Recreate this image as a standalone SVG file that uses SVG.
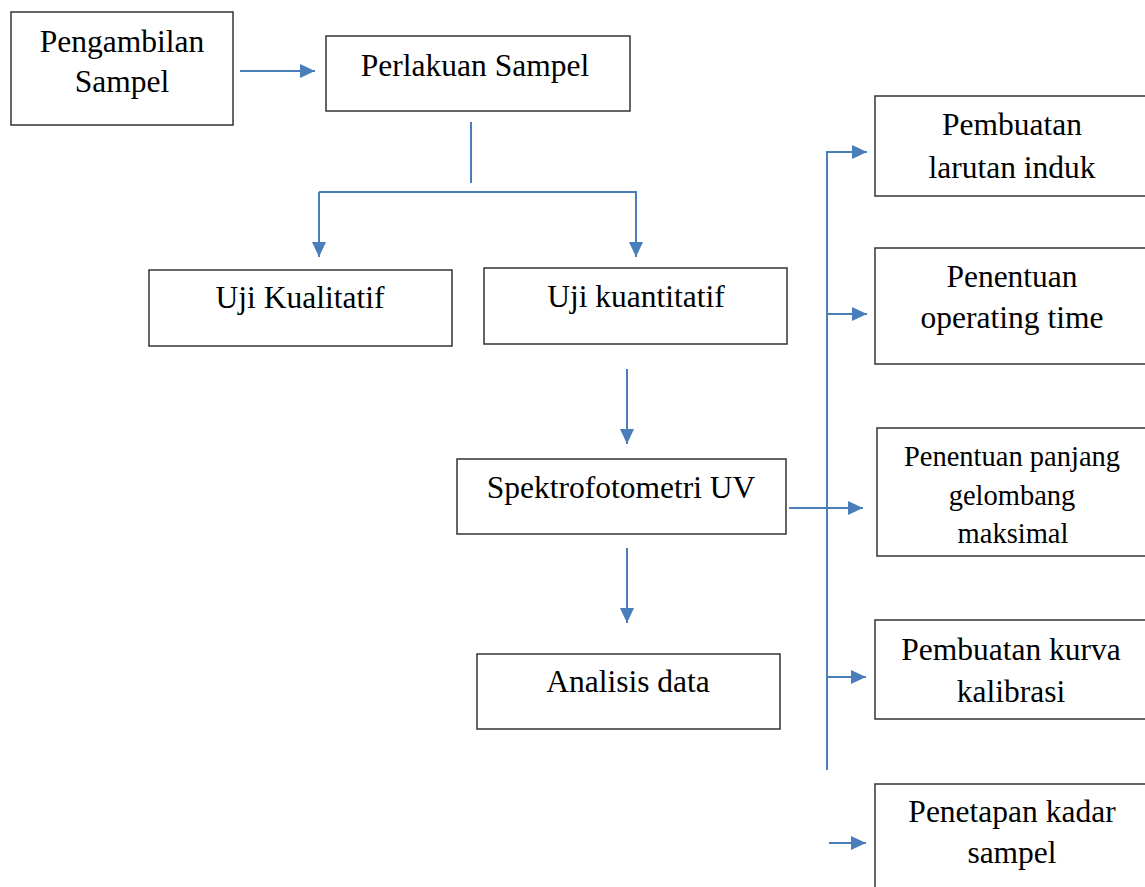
<svg xmlns="http://www.w3.org/2000/svg" width="1145" height="887" viewBox="0 0 1145 887">
<style>
.box{fill:#fff;stroke:#333;stroke-width:1.5}
.t{font-family:"Liberation Serif","Times New Roman",serif;font-size:31.5px;fill:#000;text-anchor:middle}
.ts{font-family:"Liberation Serif","Times New Roman",serif;font-size:28.5px;fill:#000;text-anchor:middle}
.c{fill:none;stroke:#4a7ebb;stroke-width:2}
</style>
<defs>
<marker id="ah" markerUnits="userSpaceOnUse" markerWidth="16" markerHeight="14" refX="15" refY="7" orient="auto">
<path d="M0,0 L15,7 L0,14 z" fill="#4a7ebb"/>
</marker>
</defs>
<rect width="1145" height="887" fill="#fff"/>
<g id="connectors">
<path class="c" d="M240,71 H315" marker-end="url(#ah)"/>
<path class="c" d="M471,122 V183"/>
<path class="c" d="M319,192 V257" marker-end="url(#ah)"/>
<path class="c" d="M319,192 H636 V257" marker-end="url(#ah)"/>
<path class="c" d="M627,369 V444" marker-end="url(#ah)"/>
<path class="c" d="M627,548 V623" marker-end="url(#ah)"/>
<path class="c" d="M827,770 V152 H867" marker-end="url(#ah)"/>
<path class="c" d="M828,314 H867" marker-end="url(#ah)"/>
<path class="c" d="M789,508 H863" marker-end="url(#ah)"/>
<path class="c" d="M828,677 H866" marker-end="url(#ah)"/>
<path class="c" d="M829,843 H866" marker-end="url(#ah)"/>
</g>
<g id="n-pengambilan">
<rect class="box" x="11" y="12" width="222" height="113"/>
<text class="t" x="122" y="52">Pengambilan</text>
<text class="t" x="122" y="92">Sampel</text>
</g>
<g id="n-perlakuan">
<rect class="box" x="326" y="36" width="304" height="75"/>
<text class="t" x="475" y="76">Perlakuan Sampel</text>
</g>
<g id="n-kualitatif">
<rect class="box" x="149" y="270" width="303" height="76"/>
<text class="t" x="300" y="308">Uji Kualitatif</text>
</g>
<g id="n-kuantitatif">
<rect class="box" x="484" y="268" width="303" height="76"/>
<text class="t" x="636" y="307">Uji kuantitatif</text>
</g>
<g id="n-spektro">
<rect class="box" x="457" y="459" width="329" height="75"/>
<text class="t" x="621" y="498">Spektrofotometri UV</text>
</g>
<g id="n-analisis">
<rect class="box" x="477" y="654" width="303" height="75"/>
<text class="t" x="628" y="692">Analisis data</text>
</g>
<g id="n-larutan">
<rect class="box" x="875" y="96" width="290" height="100"/>
<text class="t" x="1012" y="135">Pembuatan</text>
<text class="t" x="1012" y="178">larutan induk</text>
</g>
<g id="n-operating">
<rect class="box" x="875" y="248" width="290" height="116"/>
<text class="t" x="1012" y="287">Penentuan</text>
<text class="t" x="1012" y="328">operating time</text>
</g>
<g id="n-panjang">
<rect class="box" x="877" y="428" width="290" height="128"/>
<text class="ts" x="1012" y="466">Penentuan panjang</text>
<text class="ts" x="1012" y="504.5">gelombang</text>
<text class="ts" x="1013" y="542.5">maksimal</text>
</g>
<g id="n-kurva">
<rect class="box" x="875" y="620" width="290" height="99"/>
<text class="t" x="1011" y="660">Pembuatan kurva</text>
<text class="t" x="1011" y="702">kalibrasi</text>
</g>
<g id="n-kadar">
<rect class="box" x="875" y="784" width="290" height="120"/>
<text class="t" x="1012" y="822">Penetapan kadar</text>
<text class="t" x="1012" y="863">sampel</text>
</g>
</svg>
